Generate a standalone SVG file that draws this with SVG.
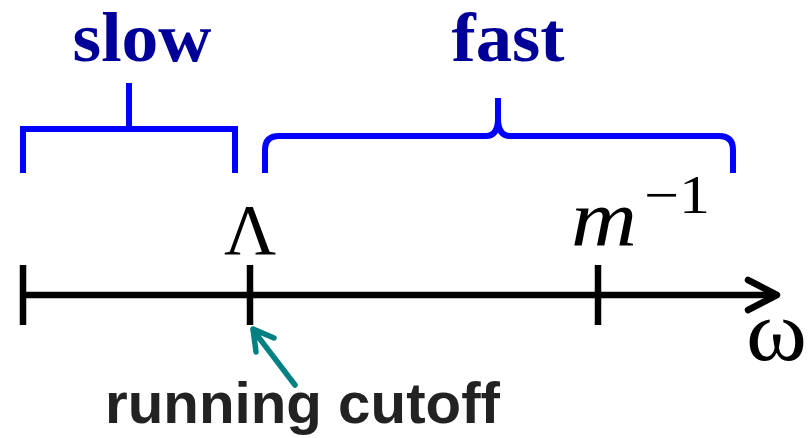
<svg xmlns="http://www.w3.org/2000/svg" width="812" height="438" viewBox="0 0 812 438">
<style>
.lbl{font-family:"Liberation Serif","Times New Roman",serif;font-weight:bold;fill:#000099;font-size:69px;text-anchor:middle}
.brk{fill:none;stroke:#0000FF;stroke-width:6}
.axis{fill:none;stroke:#000;stroke-width:6.5}
.math{font-family:"Liberation Serif","Times New Roman",serif;fill:#000}
</style>
<rect width="812" height="438" fill="#fff"/>
<g id="slow">
<text class="lbl" x="142" y="61" textLength="139" lengthAdjust="spacingAndGlyphs">slow</text>
<path class="brk" d="M23,173 L23,129 L235,129 L235,173 M129,83 L129,129"/>
</g>
<g id="fast">
<text class="lbl" x="508" y="61" textLength="113" lengthAdjust="spacingAndGlyphs">fast</text>
<path class="brk" stroke-linejoin="round" d="M265,173 L265,150 Q265,136 279,136 L486,136 C494,136 498,130 498,118 L498,98 M498,118 C498,130 502,136 510,136 L719,136 Q733,136 733,150 L733,173"/>
</g>
<g id="axis">
<path class="axis" d="M23,295 L776,295 M23,265 L23,325 M250,265 L250,325 M598,265 L598,325"/>
<path class="axis" stroke-linecap="round" stroke-linejoin="round" d="M748,280 L777,295 L748,310"/>
</g>
<g id="lambda">
<text class="math" x="250" y="254" font-size="72" text-anchor="middle">Λ</text>
</g>
<g id="minv">
<text class="math" x="571" y="245" font-size="80" font-style="italic" textLength="66" lengthAdjust="spacingAndGlyphs">m</text>
<text class="math" x="644" y="213" font-size="54" textLength="66" lengthAdjust="spacingAndGlyphs">−1</text>
</g>
<g id="omega">
<text class="math" x="746" y="360" font-size="86" textLength="61" lengthAdjust="spacingAndGlyphs">ω</text>
</g>
<g id="connectors">
<path d="M295,385 L253,330 M256,352 L253,329 L274,338" fill="none" stroke="#008080" stroke-width="5.5" stroke-linecap="round" stroke-linejoin="round"/>
</g>
<g id="running-cutoff">
<text x="105" y="423" font-family="'Comic Sans MS','Liberation Sans',Arial,sans-serif" font-weight="bold" font-size="58" fill="#222" textLength="395" lengthAdjust="spacingAndGlyphs">running cutoff</text>
</g>
</svg>
